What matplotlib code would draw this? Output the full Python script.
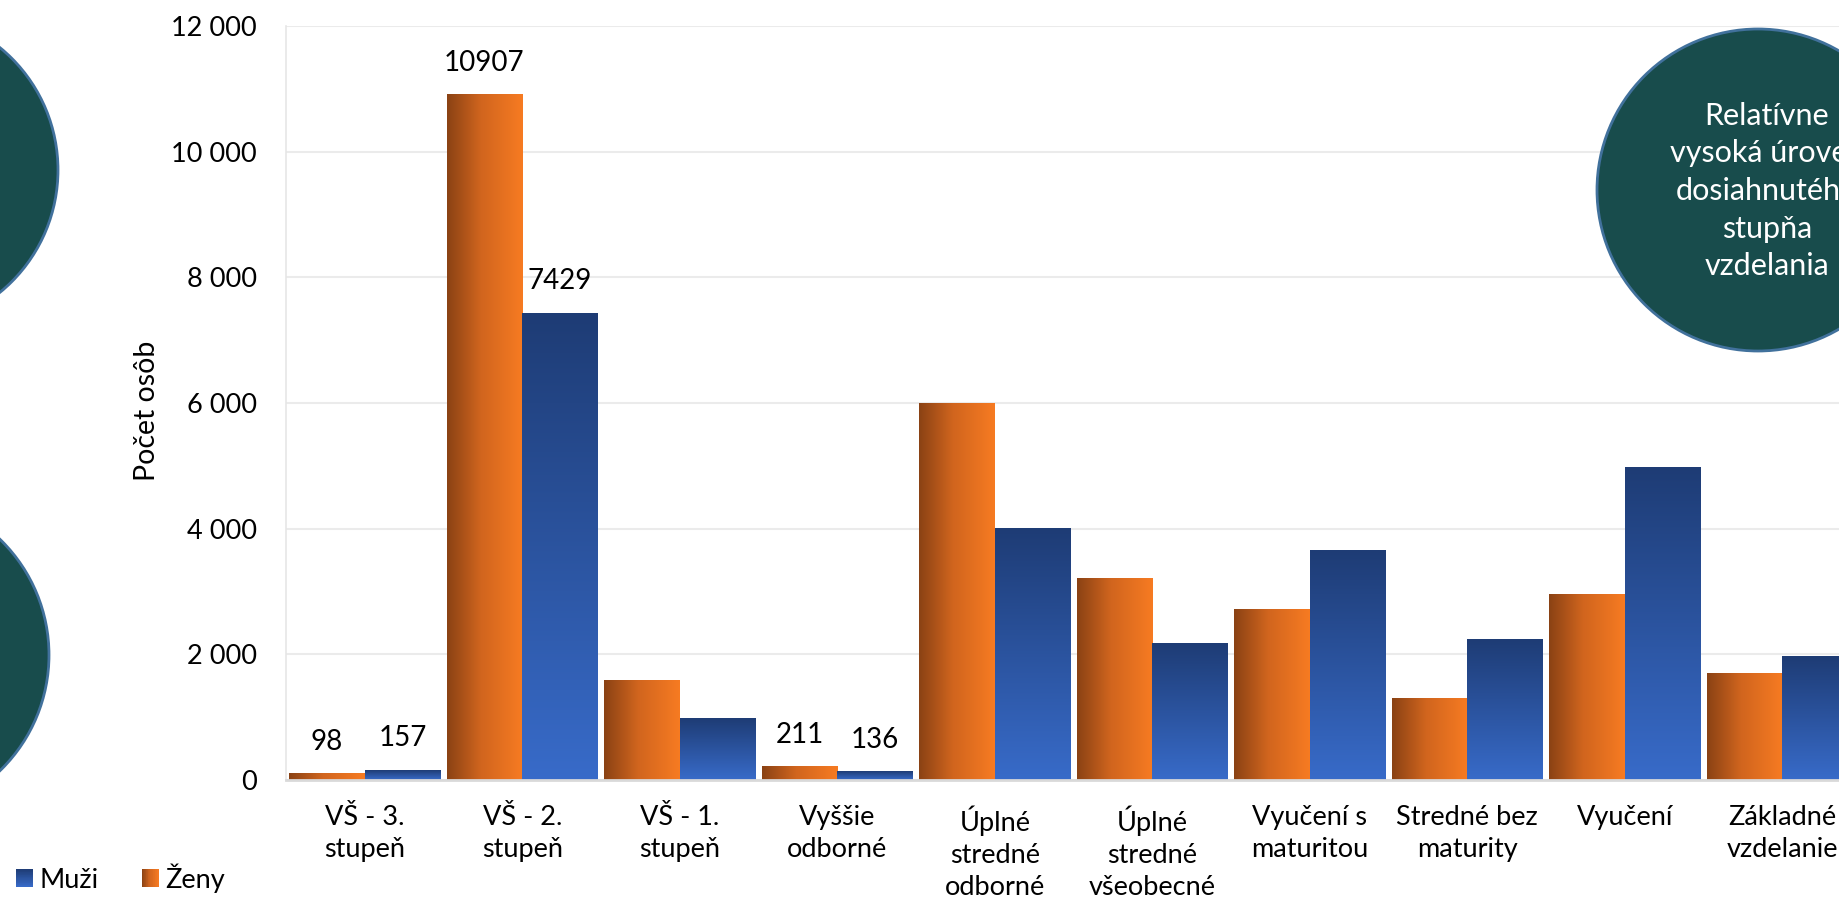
import matplotlib
matplotlib.use("Agg")
import matplotlib.pyplot as plt
import numpy as np
from matplotlib.patches import Ellipse, Rectangle
from matplotlib.colors import LinearSegmentedColormap
from matplotlib.legend_handler import HandlerBase
from matplotlib.ticker import FuncFormatter

# ---------------- data ----------------
categories = ["VŠ - 3.\nstupeň", "VŠ - 2.\nstupeň", "VŠ - 1.\nstupeň", "Vyššie\nodborné",
              "Úplné\nstredné\nodborné", "Úplné\nstredné\nvšeobecné", "Vyučení s\nmaturitou",
              "Stredné bez\nmaturity", "Vyučení", "Základné\nvzdelanie"]
zeny = [98, 10907, 1580, 211, 6000, 3200, 2720, 1290, 2960, 1690]
muzi = [157, 7429, 980, 136, 4010, 2180, 3660, 2230, 4970, 1970]
labeled = [0, 1, 3]
y_ticks = [0, 2000, 4000, 6000, 8000, 10000, 12000]
circle_text = "Relatívne\nvysoká úroveň\ndosiahnutého\nstupňa\nvzdelania"

plt.rcParams['font.family'] = ['Lato', 'DejaVu Sans']

W, H = 1839, 902
fig = plt.figure(figsize=(W / 100, H / 100), dpi=100)
ax = fig.add_axes([286 / W, 122 / H, 1575 / W, 754 / H])

orange_cmap = LinearSegmentedColormap.from_list(
    "or", [(0, "#8A4214"), (0.45, "#D1651E"), (1, "#F77B22")])
blue_cmap = LinearSegmentedColormap.from_list(
    "bl", [(0, "#1E3C75"), (1, "#386BC9")])

x = np.arange(len(categories))
bw = 0.48
bz = ax.bar(x - bw / 2, zeny, width=bw, color="none", edgecolor="none")
bm = ax.bar(x + bw / 2, muzi, width=bw, color="none", edgecolor="none")

hgrad = np.linspace(0, 1, 256).reshape(1, -1)
vgrad = np.linspace(0, 1, 256).reshape(-1, 1)
for p in bz:
    x0, y0, w, h = p.get_x(), p.get_y(), p.get_width(), p.get_height()
    ax.imshow(hgrad, extent=[x0, x0 + w, y0, y0 + h], aspect="auto",
              cmap=orange_cmap, zorder=2, interpolation="bilinear")
for p in bm:
    x0, y0, w, h = p.get_x(), p.get_y(), p.get_width(), p.get_height()
    ax.imshow(vgrad, extent=[x0, x0 + w, y0, y0 + h], aspect="auto",
              cmap=blue_cmap, zorder=2, interpolation="bilinear")

for i in labeled:
    for p, v in ((bz[i], zeny[i]), (bm[i], muzi[i])):
        ax.annotate(str(v), (p.get_x() + p.get_width() / 2, v),
                    xytext=(0, 23), textcoords="offset points",
                    ha="center", va="center", fontsize=20, color="black")

ax.set_xlim(-0.5, len(categories) - 0.5)
ax.set_ylim(0, 12000)
ax.set_yticks(y_ticks)
ax.yaxis.set_major_formatter(FuncFormatter(lambda v, _: f"{int(v):,}".replace(",", " ")))
ax.set_xticks(x)
ax.set_xticklabels(categories, fontsize=19.5, linespacing=1.36)
ax.tick_params(axis="y", length=0, pad=21, labelsize=19.5)
ax.tick_params(axis="x", length=0, pad=18)
ax.grid(axis="y", color="#EBEBEB", linewidth=1.5, zorder=0)
ax.set_axisbelow(True)
for s in ("top", "right"):
    ax.spines[s].set_visible(False)
ax.spines["left"].set_color("#E6E6E6")
ax.spines["left"].set_linewidth(1.2)
ax.spines["bottom"].set_color("#D9D9D9")
ax.spines["bottom"].set_linewidth(2)
ax.spines["bottom"].set_zorder(3)

ax.set_ylabel("Počet osôb", fontsize=20.5)
ax.yaxis.set_label_coords((160 - 286) / 1575, 0.49)


# legend with gradient handles
class GradHandler(HandlerBase):
    def __init__(self, cmap, horizontal):
        super().__init__()
        self.cmap = cmap
        self.horizontal = horizontal

    def create_artists(self, legend, orig_handle, xdescent, ydescent,
                       width, height, fontsize, trans):
        n = 24
        arts = []
        for k in range(n):
            c = self.cmap((k + 0.5) / n)
            if self.horizontal:
                r = Rectangle((-xdescent + width * k / n, -ydescent),
                              width / n * 1.05, height, fc=c, ec="none", transform=trans)
            else:
                r = Rectangle((-xdescent, -ydescent + height * (n - 1 - k) / n),
                              width, height / n * 1.05, fc=c, ec="none", transform=trans)
            arts.append(r)
        return arts


hm = Rectangle((0, 0), 1, 1)
hz = Rectangle((0, 0), 1, 1)
fig.legend([hm, hz], ["Muži", "Ženy"], loc="center left",
           bbox_to_anchor=(16 / W, 1 - 878 / H), ncol=2, frameon=False,
           fontsize=19.5, handlelength=0.62, handleheight=0.62,
           handletextpad=0.25, columnspacing=1.6, borderpad=0, borderaxespad=0,
           handler_map={hm: GradHandler(blue_cmap, False),
                        hz: GradHandler(orange_cmap, True)})

# decorative circles (pixel coords from top-left)
circle_fc = "#184C4C"
circle_ec = "#41719C"
for cx, cy, r in ((-100, 170, 158), (-112, 655, 161), (1758, 190, 161)):
    e = Ellipse((cx / W, 1 - cy / H), 2 * r / W, 2 * r / H,
                transform=fig.transFigure, fc=circle_fc, ec=circle_ec, lw=2, zorder=5)
    fig.add_artist(e)

fig.text(1767 / W, 1 - 191 / H, circle_text, ha="center", va="center",
         color="white", fontsize=22, linespacing=1.42, zorder=6)

fig.savefig("out.png", dpi=100)
